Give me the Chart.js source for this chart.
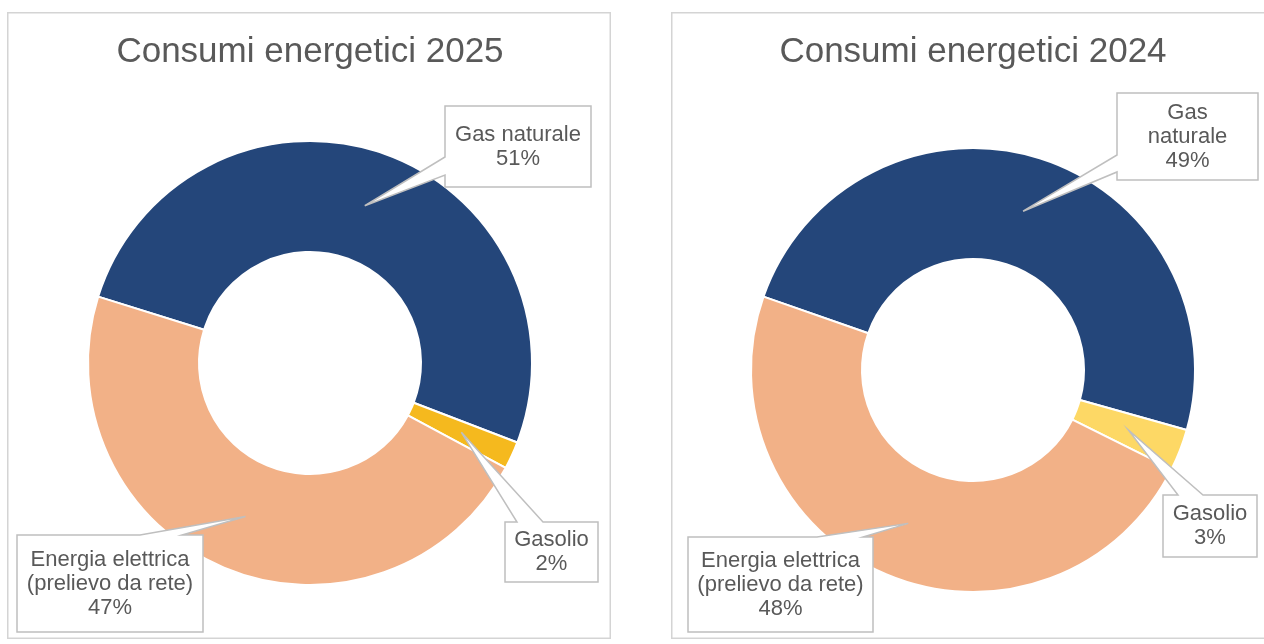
<!DOCTYPE html>
<html>
<head>
<meta charset="utf-8">
<script src="https://cdn.jsdelivr.net/npm/chart.js@4"></script>
<style>
  body { margin: 0; background: #fff; overflow: hidden; width: 1264px; height: 644px; position: relative; }
  canvas { position: absolute; }
</style>
</head>
<body>
<canvas id="graph1" width="604" height="627" style="left:7px;top:12px"></canvas>
<canvas id="graph2" width="604" height="627" style="left:671px;top:12px"></canvas>
<script>
// dati
const categories = ['Gas naturale', 'Gasolio', 'Energia elettrica (prelievo da rete)'];
const values2025 = [51, 2, 47];
const values2024 = [49, 3, 48];
const labels2025 = [['Gas naturale'], ['Gasolio'], ['Energia elettrica', '(prelievo da rete)']];
const labels2024 = [['Gas', 'naturale'], ['Gasolio'], ['Energia elettrica', '(prelievo da rete)']];
const colors2025 = ['#24467a', '#f5b91e', '#f2b187'];
const colors2024 = ['#24467a', '#fdd865', '#f2b187'];

const FONT = "'Liberation Sans', Arial, sans-serif";

// posizione dei riquadri etichetta (box + base della punta)
const boxes2025 = [
  {x: 438, y: 94, w: 146, h: 81, side: 'left', a: 145, b: 163},
  {x: 498, y: 510, w: 93, h: 60, side: 'top', a: 510, b: 536},
  {x: 10, y: 523, w: 186, h: 97, side: 'top', a: 133, b: 175}
];
const boxes2024 = [
  {x: 446, y: 81, w: 141, h: 87, side: 'left', a: 143, b: 160},
  {x: 492, y: 483, w: 94, h: 62, side: 'top', a: 507, b: 532},
  {x: 17, y: 525, w: 185, h: 95, side: 'top', a: 146, b: 192}
];

const frame = {
  id: 'frame',
  beforeDraw(chart) {
    const ctx = chart.ctx;
    ctx.save();
    ctx.strokeStyle = '#d4d4d4';
    ctx.lineWidth = 1.5;
    ctx.strokeRect(0.75, 0.75, chart.width - 1.5, chart.height - 1.5);
    ctx.restore();
  }
};

const callouts = {
  id: 'callouts',
  afterDatasetsDraw(chart, args, opts) {
    const ctx = chart.ctx;
    const meta = chart.getDatasetMeta(0);
    const vals = chart.data.datasets[0].data;
    meta.data.forEach((arc, i) => {
      const tip = arc.tooltipPosition();
      const bx = opts.boxes[i];
      const r = bx.x + bx.w, btm = bx.y + bx.h;
      ctx.save();
      ctx.beginPath();
      if (bx.side === 'left') {
        ctx.moveTo(bx.x, bx.y);
        ctx.lineTo(r, bx.y);
        ctx.lineTo(r, btm);
        ctx.lineTo(bx.x, btm);
        ctx.lineTo(bx.x, bx.b);
        ctx.lineTo(tip.x, tip.y);
        ctx.lineTo(bx.x, bx.a);
      } else {
        ctx.moveTo(bx.x, bx.y);
        ctx.lineTo(bx.a, bx.y);
        ctx.lineTo(tip.x, tip.y);
        ctx.lineTo(bx.b, bx.y);
        ctx.lineTo(r, bx.y);
        ctx.lineTo(r, btm);
        ctx.lineTo(bx.x, btm);
      }
      ctx.closePath();
      ctx.fillStyle = '#ffffff';
      ctx.fill();
      ctx.strokeStyle = '#bfbfbf';
      ctx.lineWidth = 1.5;
      ctx.stroke();

      const lines = opts.labels[i].concat([vals[i] + '%']);
      const lh = 24;
      const cy = bx.y + bx.h / 2 - (lines.length - 1) * lh / 2;
      ctx.fillStyle = '#595959';
      ctx.font = '22px ' + FONT;
      ctx.textAlign = 'center';
      ctx.textBaseline = 'middle';
      lines.forEach((t, k) => ctx.fillText(t, bx.x + bx.w / 2, cy + k * lh));
      ctx.restore();
    });
  }
};

function makeChart(sel, title, values, colors, rotation, pad, titleBottom, labels, boxes) {
  const config = {
    type: 'doughnut',
    data: {
      labels: categories,
      datasets: [{
        data: values,
        backgroundColor: colors,
        borderColor: '#ffffff',
        borderWidth: 2,
        hoverOffset: 0
      }]
    },
    options: {
      responsive: false,
      animation: false,
      events: [],
      cutout: '50%',
      rotation: rotation,
      layout: { padding: pad },
      plugins: {
        legend: { display: false },
        tooltip: { enabled: false },
        title: {
          display: true,
          text: title,
          color: '#595959',
          font: { family: FONT, size: 35, weight: 'normal' },
          padding: { top: 19, bottom: titleBottom }
        },
        callouts: { labels: labels, boxes: boxes }
      }
    },
    plugins: [frame, callouts]
  };
  return new Chart(document.querySelector(sel), config);
}

makeChart('#graph1', 'Consumi energetici 2025', values2025, colors2025, -72.6,
  { left: 80, right: 78, top: 0, bottom: 53 }, 67, labels2025, boxes2025);
makeChart('#graph2', 'Consumi energetici 2024', values2024, colors2024, -70.7,
  { left: 79, right: 79, top: 0, bottom: 46 }, 74, labels2024, boxes2024);
</script>
</body>
</html>
